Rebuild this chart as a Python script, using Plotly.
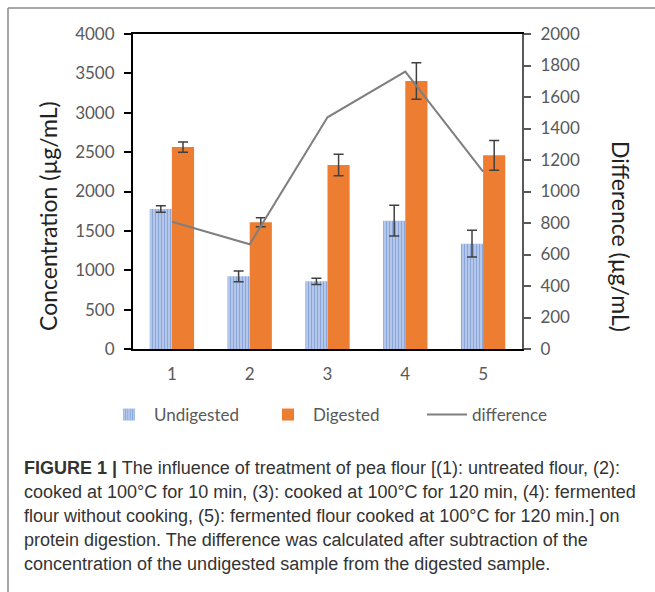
import plotly.graph_objects as go

categories = ["1", "2", "3", "4", "5"]
undigested = [1778, 923, 860, 1630, 1337]
undigested_err = [40, 68, 40, 195, 170]
digested = [2565, 1609, 2337, 3403, 2459]
digested_err = [65, 57, 137, 233, 190]
difference = [808, 665, 1471, 1761, 1126]

left_ticks = [0, 500, 1000, 1500, 2000, 2500, 3000, 3500, 4000]
right_ticks = [0, 200, 400, 600, 800, 1000, 1200, 1400, 1600, 1800, 2000]

caption_lines = [
    "<b>FIGURE 1 |</b> The influence of treatment of pea flour [(1): untreated flour, (2):",
    "cooked at 100°C for 10 min, (3): cooked at 100°C for 120 min, (4): fermented",
    "flour without cooking, (5): fermented flour cooked at 100°C for 120 min.] on",
    "protein digestion. The difference was calculated after subtraction of the",
    "concentration of the undigested sample from the digested sample.",
]

W, H = 655, 592
PL, PR, PT, PB = 133, 522, 34, 349  # plot area in pixels


def px_x(px):
    return (px - PL) / (PR - PL)


def px_y(py):
    return (PB - py) / (PB - PT)


tick_font = dict(family="Lato, Carlito, sans-serif", size=17, color="#595959")
title_font = dict(family="Lato, Carlito, sans-serif", size=23, color="#222222")
err_style = dict(type="data", thickness=1.5, width=5, color="#404040")

fig = go.Figure()
fig.add_trace(go.Bar(
    x=categories, y=undigested, name="Undigested",
    error_y=dict(array=undigested_err, **err_style),
    marker=dict(color="#ffffff", line=dict(width=0),
                pattern=dict(shape="|", fgcolor="#4472C4", bgcolor="#cfdcf3",
                             size=3, solidity=0.6, fillmode="overlay")),
))
fig.add_trace(go.Bar(
    x=categories, y=digested, name="Digested",
    error_y=dict(array=digested_err, **err_style),
    marker=dict(color="#ED7D31", line=dict(width=0)),
))
fig.add_trace(go.Scatter(
    x=categories, y=difference, name="difference", yaxis="y2",
    mode="lines", line=dict(color="#7f7f7f", width=2),
))

fig.update_layout(
    width=W, height=H,
    margin=dict(l=PL, r=W - PR, t=PT, b=H - PB, pad=0),
    paper_bgcolor="white", plot_bgcolor="white",
    barmode="group", bargap=0.43, bargroupgap=0,
    showlegend=True,
    legend=dict(orientation="h", x=px_x(104), xanchor="left", y=px_y(415), yanchor="middle",
                font=dict(family="Lato, Carlito, sans-serif", size=17, color="#595959"),
                traceorder="normal", itemwidth=40, entrywidth=104),
    xaxis=dict(type="category", range=[-0.5, 4.5], showline=True, linecolor="#000000",
               linewidth=2, mirror=True, ticks="", showgrid=False, tickfont=tick_font,
               ticklabelstandoff=9),
    yaxis=dict(range=[0, 4000], tickvals=left_ticks, showline=True, linecolor="#000000",
               linewidth=2, ticks="outside", ticklen=7, tickwidth=2, tickcolor="#000000",
               showgrid=False, zeroline=False, tickfont=tick_font, ticklabelstandoff=6),
    yaxis2=dict(range=[0, 2000], tickvals=right_ticks, overlaying="y", side="right",
                showline=True, linecolor="#595959", linewidth=2, ticks="outside", ticklen=7,
                tickwidth=2, tickcolor="#595959", showgrid=False, zeroline=False,
                tickfont=tick_font, ticklabelstandoff=6),
)

# axis titles
fig.add_annotation(text="Concentration (µg/mL)", xref="paper", yref="paper",
                   x=px_x(48), y=px_y(216), xanchor="center", yanchor="middle",
                   textangle=-90, showarrow=False, font=title_font)
fig.add_annotation(text="Difference (µg/mL)", xref="paper", yref="paper",
                   x=px_x(621), y=px_y(236), xanchor="center", yanchor="middle",
                   textangle=90, showarrow=False, font=title_font)

# figure frame (top and left border of the panel)
fig.add_shape(type="line", xref="paper", yref="paper", x0=px_x(8), x1=px_x(W + 5),
              y0=px_y(8), y1=px_y(8), line=dict(color="#8a8a8a", width=1.5))
fig.add_shape(type="line", xref="paper", yref="paper", x0=px_x(8), x1=px_x(8),
              y0=px_y(8), y1=px_y(H + 5), line=dict(color="#8a8a8a", width=1.5))

line_centers = [468, 492, 516, 540, 564]
for txt, cy in zip(caption_lines, line_centers):
    fig.add_annotation(text=txt, xref="paper", yref="paper", x=px_x(22), y=px_y(cy),
                       xanchor="left", yanchor="middle", showarrow=False, align="left",
                       font=dict(family="Liberation Sans, Arial, sans-serif", size=18,
                                 color="#333333"))

fig.write_html("out.html")
